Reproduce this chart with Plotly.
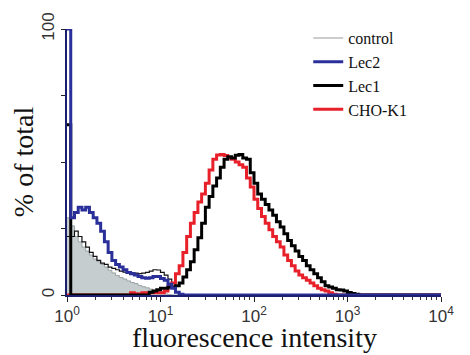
import plotly.graph_objects as go

# log10 bin positions (channel = 10**pos)
log_pos = [0.00, 0.04, 0.08, 0.12, 0.16, 0.20, 0.24, 0.28, 0.32, 0.36,
           0.40, 0.44, 0.48, 0.52, 0.56, 0.60, 0.64, 0.68, 0.72, 0.76,
           0.80, 0.84, 0.88, 0.92, 0.96, 1.00, 1.04, 1.08, 1.12, 1.16,
           1.20, 1.24, 1.28, 1.32, 1.36, 1.40, 1.44, 1.48, 1.52, 1.56,
           1.60, 1.64, 1.68, 1.72, 1.76, 1.80, 1.84, 1.88, 1.92, 1.96,
           2.00, 2.04, 2.08, 2.12, 2.16, 2.20, 2.24, 2.28, 2.32, 2.36,
           2.40, 2.44, 2.48, 2.52, 2.56, 2.60, 2.64, 2.68, 2.72, 2.76,
           2.80, 2.84, 2.88, 2.92, 2.96, 3.00, 3.04, 3.08, 3.12, 3.16,
           3.20, 4.00]

control = [29, 26, 22, 20, 18, 16.5, 15, 13.5, 12.5, 11.5,
           10.5, 9.3, 8.3, 7.3, 6.6, 6, 5.3, 4.7, 4.3, 3.6,
           3.1, 2.7, 2.2, 1.6, 1.1, 0.7, 0.4, 0.2, 0, 0,
           0, 0, 0, 0, 0, 0, 0, 0, 0, 0,
           0, 0, 0, 0, 0, 0, 0, 0, 0, 0,
           0, 0, 0, 0, 0, 0, 0, 0, 0, 0,
           0, 0, 0, 0, 0, 0, 0, 0, 0, 0,
           0, 0, 0, 0, 0, 0, 0, 0, 0, 0,
           0, 0]

# thin unlabeled black trace above the control fill (first 30 bins)
thin_black = [22, 22, 24, 22, 20, 18, 16, 14.5, 13, 12,
              11.5, 10.5, 10, 9.5, 9, 8.6, 8.5, 8.3, 8.2, 8,
              8.2, 8.5, 9, 9.5, 9.4, 8.5, 7.5, 6, 4.5, 3.5]

lec2 = [100, 29, 31, 33, 32, 33, 31, 29, 27, 24,
        20, 16, 13, 11.5, 10.5, 9.5, 8.5, 8, 7.5, 7,
        6.5, 6.3, 6.5, 7, 7, 6.2, 5.5, 4, 2.5, 1,
        0.3, 0, 0, 0, 0, 0, 0, 0, 0, 0,
        0, 0, 0, 0, 0, 0, 0, 0, 0, 0,
        0, 0, 0, 0, 0, 0, 0, 0, 0, 0,
        0, 0, 0, 0, 0, 0, 0, 0, 0, 0,
        0, 0, 0, 0, 0, 0, 0, 0, 0, 0,
        0, 0]

lec1 = [64, 0, 0, 0, 0, 0, 0, 0, 0, 0,
        0, 0, 0, 0, 0, 0, 0, 0, 0, 0,
        0, 0, 1, 1.5, 2, 2.5, 2.5, 3, 3, 3.5,
        4.5, 6.8, 9.5, 12.5, 17, 21.5, 27, 33, 37, 41,
        44, 48, 51, 52, 51.5, 52.5, 52.8, 51.5, 51, 46,
        42, 38, 36, 34, 32, 30, 27.5, 25.6, 23, 20.5,
        18.5, 16.5, 14.5, 13, 11, 9.5, 8, 6.5, 5, 3.5,
        3, 2.5, 2, 1.9, 1.5, 0.9, 0.6, 0.3, 0, 0,
        0, 0]

cho_k1 = [0, 0, 0, 0, 0, 0, 0, 0, 0, 0,
          0, 0, 0, 0, 0, 0, 0, 0.8, 0.5, 0.3,
          0.8, 0.8, 0.8, 0.8, 0.8, 0.8, 1.5, 3, 4.5, 8,
          11, 16, 22, 27, 31, 35, 38, 42, 47, 51,
          52.6, 52.8, 52.4, 51.5, 51, 50, 49, 48, 44, 40.6,
          36, 32.5, 29.5, 27, 24.5, 22, 20, 18, 15, 13,
          11, 9, 7.5, 6.5, 5.5, 4.5, 3.5, 2.5, 2, 1.5,
          0.8, 0.3, 0, 0, 0, 0, 0, 0, 0, 0,
          0, 0]

x_tick_vals = [1, 10, 100, 1000, 10000]
x_tick_text = ["10<sup>0</sup>", "10<sup>1</sup>", "10<sup>2</sup>",
               "10<sup>3</sup>", "10<sup>4</sup>"]
y_tick_vals = [0, 25, 50, 75, 100]
y_tick_text = ["0", "", "", "", "100"]
x_title = "fluorescence intensity"
y_title = "% of total"

chan = [10 ** p for p in log_pos]

fig = go.Figure()
# control: grey fill
fig.add_trace(go.Scatter(x=chan, y=control, mode="lines", line_shape="hv",
                         line=dict(color="#9aa3a5", width=1), fill="tozeroy",
                         fillcolor="#c6cdcf", showlegend=False, hoverinfo="skip"))
fig.add_trace(go.Scatter(x=chan[:len(thin_black)], y=thin_black, mode="lines",
                         line_shape="hv", line=dict(color="#111111", width=1.2),
                         showlegend=False))
fig.add_trace(go.Scatter(x=chan, y=cho_k1, mode="lines", line_shape="hv",
                         line=dict(color="#e8202a", width=3), name="CHO-K1",
                         legendrank=4))
fig.add_trace(go.Scatter(x=chan, y=lec1, mode="lines", line_shape="hv",
                         line=dict(color="#000000", width=3), name="Lec1",
                         legendrank=3))
fig.add_trace(go.Scatter(x=chan, y=lec2, mode="lines", line_shape="hv",
                         line=dict(color="#2a2f9a", width=3), name="Lec2",
                         legendrank=2))
# legend-only entry for control
fig.add_trace(go.Scatter(x=[None], y=[None], mode="lines",
                         line=dict(color="#cccccc", width=2), name="control",
                         legendrank=1))

# page body has an 8px margin, so the figure is 8px smaller than the window
fig.update_layout(
    width=462, height=347,
    margin=dict(l=59, r=29, t=21, b=60),
    paper_bgcolor="white", plot_bgcolor="white",
    showlegend=True,
    legend=dict(x=0.645, y=1.03, xanchor="left", yanchor="top",
                bgcolor="rgba(0,0,0,0)", borderwidth=0,
                font=dict(family="Liberation Serif", size=16, color="#111111"),
                tracegroupgap=0),
    annotations=[dict(text=x_title, xref="paper", yref="paper", x=0.5, y=0,
                      xanchor="center", yanchor="top", yshift=-25, showarrow=False,
                      font=dict(family="Liberation Serif", size=28, color="#111111"))],
)
fig.update_xaxes(type="log", range=[0, 4], tickvals=x_tick_vals, ticktext=x_tick_text,
                 automargin=False,
                 ticks="outside", ticklen=5, tickcolor="#222222", showgrid=False,
                 zeroline=False, showline=True, linecolor="#1c1f6e", linewidth=2,
                 tickfont=dict(family="Liberation Sans", size=17, color="#333333"),
                 minor=dict(ticks="outside", ticklen=3, dtick="D1", tickcolor="#333333",
                            showgrid=False))
fig.update_yaxes(range=[0, 100], tickvals=y_tick_vals, ticktext=y_tick_text,
                 automargin=False,
                 tickangle=-90, ticks="outside", ticklen=4, tickcolor="#222222",
                 showgrid=False, zeroline=False, showline=True, linecolor="#1c1f6e",
                 linewidth=2,
                 tickfont=dict(family="Liberation Sans", size=17, color="#333333"),
                 title=dict(text=y_title,
                            font=dict(family="Liberation Serif", size=28, color="#111111"),
                            standoff=2))

fig.write_html("out.html")
